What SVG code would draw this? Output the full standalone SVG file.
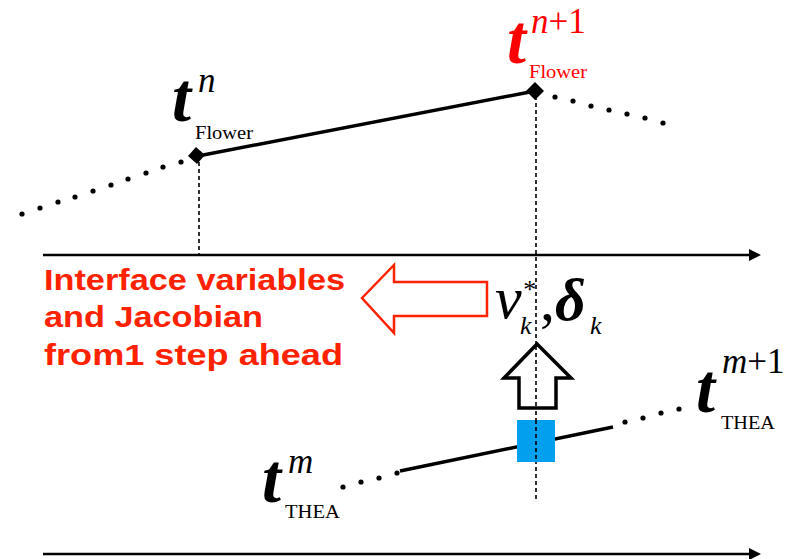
<svg xmlns="http://www.w3.org/2000/svg" width="787" height="559" viewBox="0 0 787 559">
<style>
.axis{stroke:#000;stroke-width:2.5;fill:none}
.solid{stroke:#000;stroke-width:3.5;fill:none;stroke-linecap:butt}
.dash{stroke:#000;stroke-width:1.6;stroke-dasharray:4 3;fill:none}
.dot{fill:#000}
.math{font-family:"Liberation Serif","Times New Roman",serif;font-style:italic}
.big{font-size:70px;font-weight:bold}
.sup{font-size:35px}
.sub{font-family:"Liberation Serif","Times New Roman",serif;font-size:19px}
.lbl{font-family:"Liberation Sans",Arial,sans-serif;font-weight:bold;font-size:30px;fill:#FF2200}
</style>
<defs>
<circle id="d" r="2.6" class="dot"/>
</defs>
<g id="connectors">
<line class="axis" x1="43" y1="255" x2="752" y2="255"/>
<path d="M749,249 L761,255 L749,261 z" fill="#000"/>
<line class="axis" x1="43" y1="554" x2="752" y2="554"/>
<path d="M749,548 L761,554 L749,560 z" fill="#000"/>
<line class="dash" x1="199" y1="162" x2="199" y2="255"/>
<line class="dash" x1="536" y1="96" x2="536" y2="500"/>
<line class="solid" x1="198" y1="156" x2="535" y2="91"/>
<line class="solid" x1="400" y1="471" x2="613" y2="427"/>
<g id="dots-left-top">
<use href="#d" x="22" y="214"/><use href="#d" x="40" y="208"/><use href="#d" x="58" y="202"/><use href="#d" x="75" y="197"/><use href="#d" x="93" y="191"/><use href="#d" x="111" y="185"/><use href="#d" x="128" y="179"/><use href="#d" x="146" y="173"/><use href="#d" x="163" y="167"/><use href="#d" x="181" y="162"/>
</g>
<g id="dots-right-top">
<use href="#d" x="555" y="97"/><use href="#d" x="573" y="101"/><use href="#d" x="591" y="106"/><use href="#d" x="609" y="110"/><use href="#d" x="627" y="114"/><use href="#d" x="645" y="118"/><use href="#d" x="663" y="123"/>
</g>
<g id="dots-left-bottom">
<use href="#d" x="343" y="487"/><use href="#d" x="361" y="482"/><use href="#d" x="379" y="478"/><use href="#d" x="397" y="473"/>
</g>
<g id="dots-right-bottom">
<use href="#d" x="625" y="422"/><use href="#d" x="643" y="418"/><use href="#d" x="661" y="413"/><use href="#d" x="679" y="409"/>
</g>
</g>
<g id="node-tn">
<path d="M196,147 L205,155 L197,164 L188,156 z" fill="#000"/>
<text class="math big" x="172" y="121" textLength="19" lengthAdjust="spacingAndGlyphs">t</text>
<text class="math sup" x="198" y="92">n</text>
<text class="sub" x="195" y="139" textLength="58" lengthAdjust="spacingAndGlyphs">Flower</text>
</g>
<g id="node-tn1">
<path d="M535,82 L544,91 L535,100 L526,91 z" fill="#000"/>
<text class="math big" x="507" y="63" fill="#FF0000" textLength="19" lengthAdjust="spacingAndGlyphs">t</text>
<text class="math sup" x="531" y="33" fill="#FF0000">n<tspan font-style="normal">+1</tspan></text>
<text class="sub" x="529" y="78" fill="#FF0000" textLength="58" lengthAdjust="spacingAndGlyphs">Flower</text>
</g>
<g id="node-tm">
<text class="math big" x="262" y="502" textLength="19" lengthAdjust="spacingAndGlyphs">t</text>
<text class="math sup" x="288" y="473">m</text>
<text class="sub" x="285" y="518" textLength="55" lengthAdjust="spacingAndGlyphs">THEA</text>
</g>
<g id="node-tm1">
<text class="math big" x="696" y="412" textLength="19" lengthAdjust="spacingAndGlyphs">t</text>
<text class="math sup" x="722" y="373">m<tspan font-style="normal">+1</tspan></text>
<text class="sub" x="721" y="429" textLength="54" lengthAdjust="spacingAndGlyphs">THEA</text>
</g>
<g id="node-block">
<rect x="517" y="420" width="38" height="42" fill="#00A0EE"/>
<line class="dash" x1="536" y1="420" x2="536" y2="462"/>
</g>
<g id="node-uparrow">
<path d="M537,344 L571,378 L556,378 L556,408 L519,408 L519,378 L504,378 z" fill="#fff" stroke="#000" stroke-width="3.5" stroke-linejoin="miter"/>
<line class="dash" x1="536" y1="346" x2="536" y2="408"/>
</g>
<g id="node-vars">
<text class="math" font-size="60" x="495" y="318">v<tspan font-size="26" x="522" y="298">*</tspan><tspan font-size="26" x="520" y="334">k</tspan><tspan font-style="normal" x="540" y="320">,</tspan><tspan font-weight="bold" x="555" y="320">δ</tspan><tspan font-size="26" x="590" y="334">k</tspan></text>
</g>
<g id="node-leftarrow">
<path d="M362,298 L394,265 L394,282 L487,282 L487,316 L394,316 L394,333 z" fill="#fff" stroke="#FF2200" stroke-width="2.5"/>
</g>
<g id="node-label">
<text class="lbl" x="44" y="290" textLength="301" lengthAdjust="spacingAndGlyphs">Interface variables</text>
<text class="lbl" x="44" y="327" textLength="219" lengthAdjust="spacingAndGlyphs">and Jacobian</text>
<text class="lbl" x="44" y="365" textLength="299" lengthAdjust="spacingAndGlyphs">from1 step ahead</text>
</g>
</svg>
